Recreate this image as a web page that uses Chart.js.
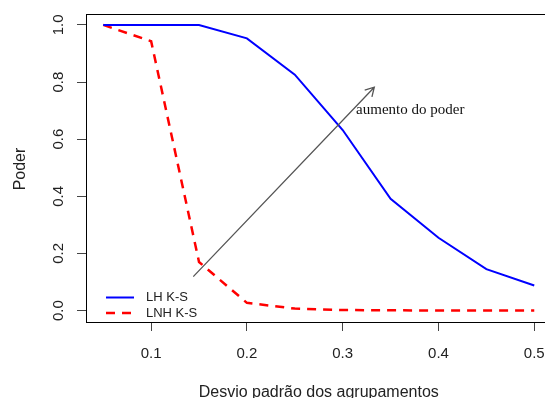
<!DOCTYPE html>
<html>
<head>
<meta charset="utf-8">
<script src="https://cdn.jsdelivr.net/npm/chart.js@4"></script>
<style>
  html, body { margin: 0; padding: 0; background: #fff; overflow: hidden; }
  .chart-box { width: 560px; height: 398px; }
</style>
</head>
<body>
<div class="chart-box"><canvas id="power-chart"></canvas></div>
<script>
// Data - power of the K-S test by cluster standard deviation
const sigma = [0.05, 0.10, 0.15, 0.20, 0.25, 0.30, 0.35, 0.40, 0.45, 0.50]
const powerLH = [1.000, 1.000, 1.000, 0.953, 0.826, 0.632, 0.391, 0.255, 0.145, 0.088]
const powerLNH = [1.000, 0.943, 0.170, 0.027, 0.007, 0.002, 0.001, 0.000, 0.000, 0.000]
const xTicks = [0.1, 0.2, 0.3, 0.4, 0.5]
const yTicks = [0.0, 0.2, 0.4, 0.6, 0.8, 1.0]
const seriesNames = ['LH K-S', 'LNH K-S']
const xTitle = 'Desvio padrão dos agrupamentos'
const yTitle = 'Poder'
const arrowFrom = [0.144, 0.119]
const arrowTo = [0.333, 0.782]
const arrowLabel = 'aumento do poder'
const arrowLabelAt = [0.314, 0.703]
// End Data

const sans = '"Liberation Sans", Arial, sans-serif'
const serif = '"Liberation Serif", "Times New Roman", serif'

// R-like decorations: box, tick labels, titles, legend, arrow
const rPlotStyle = {
  id: 'rPlotStyle',
  afterDraw(chart) {
    const { ctx, chartArea: area, scales: { x, y } } = chart
    ctx.save()

    // Box
    const l = Math.round(area.left) + 0.5
    const t = Math.round(area.top) + 0.5
    const r = Math.round(area.right) + 0.5
    const b = Math.round(area.bottom) + 0.5
    ctx.strokeStyle = '#000'
    ctx.lineWidth = 1
    ctx.strokeRect(l, t, r - l, b - t)

    // Tick labels
    ctx.fillStyle = '#222'
    ctx.font = `15px ${sans}`
    ctx.textAlign = 'center'
    ctx.textBaseline = 'alphabetic'
    xTicks.forEach((v) => {
      ctx.fillText(v.toFixed(1), x.getPixelForValue(v), area.bottom + 35.5)
    })
    yTicks.forEach((v) => {
      ctx.save()
      ctx.translate(area.left - 23.5, y.getPixelForValue(v))
      ctx.rotate(-Math.PI / 2)
      ctx.fillText(v.toFixed(1), 0, 0)
      ctx.restore()
    })

    // Axis titles
    ctx.font = `16px ${sans}`
    ctx.fillText(xTitle, (area.left + area.right) / 2, 397)
    ctx.save()
    ctx.translate(25, 169)
    ctx.rotate(-Math.PI / 2)
    ctx.fillText(yTitle, 0, 0)
    ctx.restore()

    // Legend
    ctx.font = `13px ${sans}`
    ctx.textAlign = 'left'
    ctx.textBaseline = 'middle'
    chart.data.datasets.forEach((ds, i) => {
      const ly = 297.5 + i * 15.5
      ctx.save()
      ctx.strokeStyle = ds.borderColor
      ctx.lineWidth = ds.borderWidth
      ctx.setLineDash(ds.borderDash || [])
      ctx.beginPath()
      ctx.moveTo(106, ly)
      ctx.lineTo(134, ly)
      ctx.stroke()
      ctx.restore()
      ctx.fillStyle = '#222'
      ctx.fillText(ds.label, 146, ly)
    })

    // Arrow
    const x0 = x.getPixelForValue(arrowFrom[0])
    const y0 = y.getPixelForValue(arrowFrom[1])
    const x1 = x.getPixelForValue(arrowTo[0])
    const y1 = y.getPixelForValue(arrowTo[1])
    const angle = Math.atan2(y1 - y0, x1 - x0)
    const head = 10
    ctx.strokeStyle = '#555'
    ctx.lineWidth = 1.3
    ctx.beginPath()
    ctx.moveTo(x0, y0)
    ctx.lineTo(x1, y1)
    ctx.moveTo(x1 - head * Math.cos(angle - Math.PI / 6), y1 - head * Math.sin(angle - Math.PI / 6))
    ctx.lineTo(x1, y1)
    ctx.lineTo(x1 - head * Math.cos(angle + Math.PI / 6), y1 - head * Math.sin(angle + Math.PI / 6))
    ctx.stroke()

    ctx.fillStyle = '#111'
    ctx.font = `15px ${serif}`
    ctx.textAlign = 'left'
    ctx.textBaseline = 'middle'
    ctx.fillText(arrowLabel, x.getPixelForValue(arrowLabelAt[0]), y.getPixelForValue(arrowLabelAt[1]))

    ctx.restore()
  }
}

const powerChart = document.querySelector('#power-chart')
if (powerChart) {
  new Chart(powerChart, {
    type: 'line',
    data: {
      labels: sigma,
      datasets: [
        {
          label: seriesNames[0],
          data: sigma.map((s, i) => ({ x: s, y: powerLH[i] })),
          borderColor: '#0000ff',
          borderWidth: 2,
          pointRadius: 0,
          tension: 0
        },
        {
          label: seriesNames[1],
          data: sigma.map((s, i) => ({ x: s, y: powerLNH[i] })),
          borderColor: '#ff0000',
          borderWidth: 2.5,
          borderDash: [9, 7],
          pointRadius: 0,
          tension: 0
        }
      ]
    },
    options: {
      animation: false,
      responsive: true,
      maintainAspectRatio: false,
      layout: {
        padding: { left: 86, top: 13.5, right: 8.5, bottom: 76 }
      },
      plugins: {
        legend: { display: false },
        tooltip: { enabled: false }
      },
      scales: {
        x: {
          type: 'linear',
          min: 0.032,
          max: 0.518,
          afterBuildTicks: (scale) => {
            scale.ticks = xTicks.map((v) => ({ value: v }))
          },
          afterFit: (scale) => {
            scale.height = 0
          },
          ticks: { display: false },
          grid: {
            drawOnChartArea: false,
            drawTicks: true,
            tickLength: 9,
            color: '#444'
          },
          border: { display: false }
        },
        y: {
          type: 'linear',
          min: -0.04,
          max: 1.04,
          afterBuildTicks: (scale) => {
            scale.ticks = yTicks.map((v) => ({ value: v }))
          },
          afterFit: (scale) => {
            scale.width = 0
          },
          ticks: { display: false },
          grid: {
            drawOnChartArea: false,
            drawTicks: true,
            tickLength: 9,
            color: '#444'
          },
          border: { display: false }
        }
      }
    },
    plugins: [rPlotStyle]
  })
}
</script>
</body>
</html>
